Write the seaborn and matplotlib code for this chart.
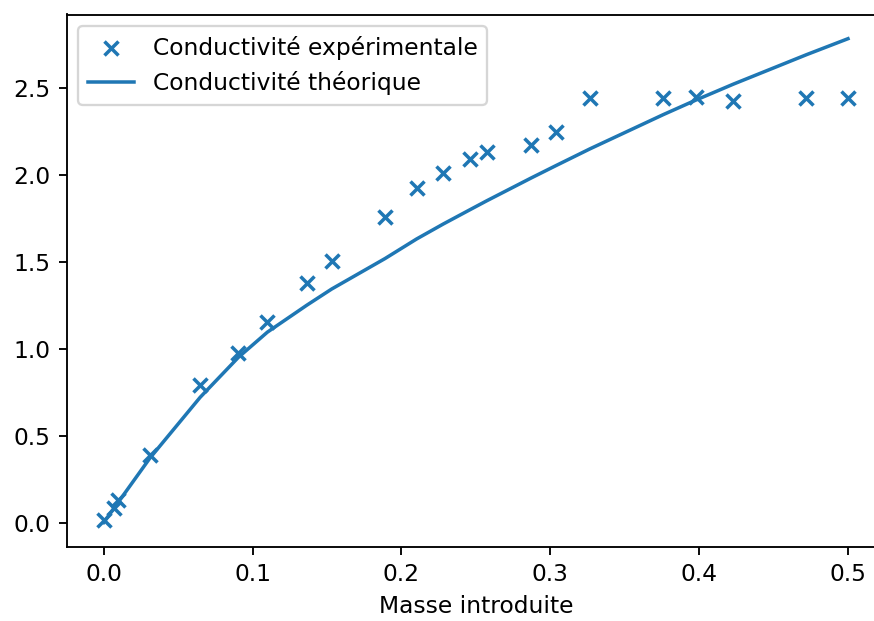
import matplotlib
matplotlib.use("Agg")
import matplotlib.pyplot as plt
import seaborn as sns
import pandas as pd

masse = [0.0, 0.0066, 0.0099, 0.031, 0.0648, 0.0905, 0.110, 0.1365, 0.1532,
         0.189, 0.2103, 0.2282, 0.2461, 0.2573, 0.2871, 0.3037, 0.3267,
         0.376, 0.398, 0.423, 0.4723, 0.5002]
cond_exp = [0.014, 0.082, 0.13, 0.388, 0.79, 0.973, 1.152, 1.376, 1.505,
            1.76, 1.926, 2.009, 2.092, 2.134, 2.172, 2.245, 2.441,
            2.441, 2.446, 2.427, 2.441, 2.441]
cond_theo = [0.0, 0.079, 0.118, 0.37, 0.72, 0.95, 1.095, 1.25, 1.343,
             1.518, 1.631, 1.717, 1.799, 1.85, 1.981, 2.052, 2.149,
             2.346, 2.43, 2.521, 2.691, 2.783]

label_exp = "Conductivité expérimentale"
label_theo = "Conductivité théorique"
xlabel = "Masse introduite"

df = pd.DataFrame({"masse": masse, "exp": cond_exp, "theo": cond_theo})

dpi = 168
fig = plt.figure(figsize=(874 / dpi, 621 / dpi), dpi=dpi)
ax = fig.add_axes([66.5 / 874, 1 - 546.7 / 621, (885.2 - 66.5) / 874, (546.7 - 14.5) / 621])

sns.scatterplot(data=df, x="masse", y="exp", marker="x", color="C0", s=36,
                linewidth=1.5, label=label_exp, ax=ax, zorder=3)
sns.lineplot(data=df, x="masse", y="theo", color="C0", linewidth=1.5,
             sort=False, estimator=None, label=label_theo, ax=ax)

ax.set_xlabel(xlabel)
ax.set_ylabel("")
ax.set_xticks([0.0, 0.1, 0.2, 0.3, 0.4, 0.5])
ax.set_yticks([0.0, 0.5, 1.0, 1.5, 2.0, 2.5])
ax.legend(loc="upper left")

fig.savefig("out.png", dpi=dpi)
